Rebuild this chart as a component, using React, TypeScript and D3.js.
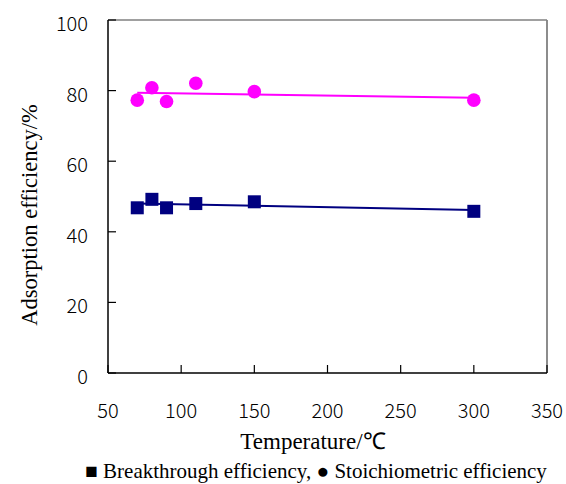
import React from "react";
import * as d3 from "d3";

const temperatures = [70, 80, 90, 110, 150, 300];
const breakthrough = [46.8, 49.2, 46.8, 48.0, 48.5, 45.8];
const stoichiometric = [77.3, 80.8, 76.9, 82.1, 79.7, 77.3];
const xTicks = [50, 100, 150, 200, 250, 300, 350];
const yTicks = [0, 20, 40, 60, 80, 100];

const W = 566;
const H = 484;
const left = 108;
const right = 547;
const top = 20;
const bottom = 373;
const SERIF = "Liberation Serif";
const SANS = "Noto Sans CJK JP";

function fit(xs: number[], ys: number[]) {
  const mx = d3.mean(xs)!;
  const my = d3.mean(ys)!;
  let sxy = 0;
  let sxx = 0;
  xs.forEach((x, i) => {
    sxy += (x - mx) * (ys[i] - my);
    sxx += (x - mx) * (x - mx);
  });
  const b = sxy / sxx;
  return (x: number) => my + b * (x - mx);
}

export default function App() {
  const x = d3.scaleLinear().domain([50, 350]).range([left, right]);
  const y = d3.scaleLinear().domain([0, 100]).range([bottom, top]);
  const xMin = d3.min(temperatures)!;
  const xMax = d3.max(temperatures)!;
  const fb = fit(temperatures, breakthrough);
  const fs = fit(temperatures, stoichiometric);
  const trend = (f: (v: number) => number) =>
    d3.line<number>().x((d) => x(d)).y((d) => y(f(d)))([xMin, xMax]) || "";
  const sq = 13;
  return (
    <svg
      width={W}
      height={H}
      style={{ position: "absolute", left: 0, top: 0, background: "#fff" }}
    >
      <line x1={left} y1={top} x2={right} y2={top} stroke="#808080" strokeWidth={1.5} />
      <line x1={right} y1={top} x2={right} y2={bottom} stroke="#808080" strokeWidth={1.8} />
      <line x1={left} y1={top} x2={left} y2={bottom} stroke="#000" strokeWidth={1.5} />
      <line x1={left} y1={bottom} x2={right} y2={bottom} stroke="#000" strokeWidth={1.5} />
      {yTicks.map((t) => (
        <g key={"y" + t}>
          <line x1={left} x2={left + 8} y1={y(t)} y2={y(t)} stroke="#000" strokeWidth={1.2} />
          <text x={88} y={y(t) + 11} textAnchor="end" fontFamily={SANS} fontWeight={300} fontSize={20} fill="#000">
            {t}
          </text>
        </g>
      ))}
      {xTicks.map((t) => (
        <g key={"x" + t}>
          <line x1={x(t)} x2={x(t)} y1={bottom} y2={bottom - 8} stroke="#000" strokeWidth={1.2} />
          <text x={x(t)} y={418} textAnchor="middle" fontFamily={SANS} fontWeight={300} fontSize={20} fill="#000">
            {t}
          </text>
        </g>
      ))}
      <path d={trend(fs)} stroke="#FF00FF" strokeWidth={2} fill="none" />
      <path d={trend(fb)} stroke="#000080" strokeWidth={2} fill="none" />
      {temperatures.map((t, i) => (
        <circle key={"c" + i} cx={x(t)} cy={y(stoichiometric[i])} r={6.8} fill="#FF00FF" />
      ))}
      {temperatures.map((t, i) => (
        <rect
          key={"r" + i}
          x={x(t) - sq / 2}
          y={y(breakthrough[i]) - sq / 2}
          width={sq}
          height={sq}
          fill="#000080"
        />
      ))}
      <text transform="translate(37,215) rotate(-90)" textAnchor="middle" fontFamily={SERIF} fontSize={22.5} fill="#000">
        Adsorption efficiency/%
      </text>
      <text x={313} y={449} textAnchor="middle" fontFamily={SERIF} fontSize={23} fill="#000">
        Temperature/℃
      </text>
      <text x={316} y={478} textAnchor="middle" fontFamily={SERIF} fontSize={21} fill="#000">
        ■ Breakthrough efficiency, ● Stoichiometric efficiency
      </text>
    </svg>
  );
}
